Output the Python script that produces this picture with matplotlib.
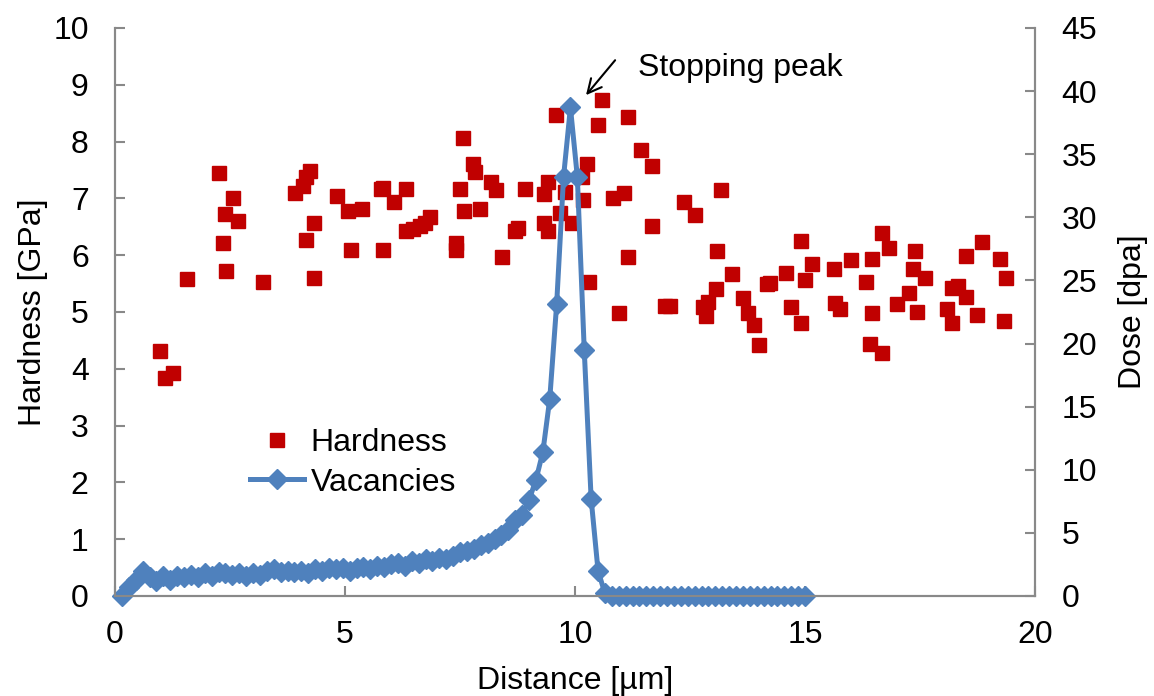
import numpy as np
import matplotlib.pyplot as plt

plt.rcParams["font.family"] = ["Liberation Sans", "DejaVu Sans"]

# hardness measurements (distance um, GPa)
hard_x = [0.98, 1.09, 1.26, 1.57, 2.25, 2.34, 2.39, 2.41, 2.57, 2.67, 3.21, 3.91, 4.08, 4.15,
          4.15, 4.24, 4.33, 4.33, 4.83, 5.07, 5.13, 5.36, 5.78, 5.83, 5.83, 6.07, 6.33, 6.33,
          6.48, 6.63, 6.74, 6.85, 7.41, 7.41, 7.49, 7.57, 7.59, 7.78, 7.83, 7.93, 8.17, 8.28,
          8.41, 8.70, 8.77, 8.92, 9.33, 9.33, 9.42, 9.42, 9.59, 9.67, 9.78, 9.93, 10.15, 10.17,
          10.27, 10.31, 10.51, 10.58, 10.83, 10.96, 11.07, 11.16, 11.16, 11.43, 11.67, 11.67,
          11.96, 12.07, 12.37, 12.61, 12.79, 12.85, 12.90, 13.07, 13.08, 13.17, 13.41, 13.66,
          13.77, 13.88, 14.00, 14.17, 14.24, 14.58, 14.70, 14.91, 14.91, 15.00, 15.16, 15.63,
          15.65, 15.75, 16.00, 16.33, 16.41, 16.45, 16.45, 16.67, 16.67, 16.83, 17.01, 17.27,
          17.34, 17.38, 17.44, 17.61, 18.08, 18.19, 18.19, 18.33, 18.49, 18.50, 18.73, 18.84,
          19.24, 19.33, 19.37]
hard_y = [4.31, 3.84, 3.93, 5.58, 7.44, 6.22, 6.72, 5.73, 7.00, 6.61, 5.52, 7.10, 7.22, 7.37,
          6.27, 7.49, 6.56, 5.59, 7.04, 6.77, 6.10, 6.81, 7.16, 7.19, 6.09, 6.93, 7.17, 6.43,
          6.46, 6.52, 6.56, 6.68, 6.22, 6.09, 7.17, 8.07, 6.78, 7.60, 7.47, 6.81, 7.29, 7.14,
          5.96, 6.43, 6.47, 7.17, 7.07, 6.56, 7.29, 6.43, 8.47, 6.74, 7.12, 6.57, 7.38, 6.98,
          7.61, 5.52, 8.29, 8.74, 7.00, 4.98, 7.09, 8.43, 5.96, 7.85, 7.57, 6.51,
          5.11, 5.11, 6.94, 6.70, 5.09, 4.93, 5.18, 5.40, 6.08, 7.15, 5.67, 5.24,
          4.98, 4.77, 4.41, 5.49, 5.51, 5.69, 5.08, 4.80, 6.25, 5.56, 5.84, 5.75,
          5.16, 5.05, 5.92, 5.52, 4.44, 5.94, 4.98, 4.27, 6.39, 6.12, 5.14, 5.33,
          5.75, 6.08, 5.00, 5.59, 5.06, 5.43, 4.80, 5.45, 5.98, 5.26, 4.95, 6.23,
          5.93, 4.85, 5.59]

# vacancy dose profile (distance um, dpa)
vac_x = [round(0.15 * k, 2) for k in range(1, 101)]
vac_y = [0.0, 0.7, 1.3, 2.0, 1.5, 1.2, 1.6, 1.3, 1.6, 1.5,
         1.7, 1.5, 1.8, 1.6, 1.9, 1.8, 1.7, 1.8, 1.6, 1.8,
         1.7, 2.0, 2.1, 1.9, 2.0, 1.9, 2.0, 1.8, 2.1, 2.0,
         2.2, 2.1, 2.2, 2.0, 2.2, 2.3, 2.1, 2.4, 2.3, 2.5,
         2.6, 2.4, 2.8, 2.6, 2.9, 2.8, 3.0, 2.9, 3.2, 3.5,
         3.6, 3.7, 4.0, 4.2, 4.5, 4.8, 5.2, 6.0, 6.4, 7.6,
         9.2, 11.4, 15.6, 23.1, 33.2, 38.7, 33.2, 19.5, 7.7, 2.0,
         0.2, 0.0, 0.0, 0.0, 0.0, 0.0, 0.0, 0.0, 0.0, 0.0,
         0.0, 0.0, 0.0, 0.0, 0.0, 0.0, 0.0, 0.0, 0.0, 0.0,
         0.0, 0.0, 0.0, 0.0, 0.0, 0.0, 0.0, 0.0, 0.0, 0.0]

red = "#C00000"
blue = "#4F81BD"
grey = "#898989"
fs = 23

fig, ax = plt.subplots(figsize=(11.54, 6.96), dpi=100)
fig.subplots_adjust(left=0.0997, right=0.8969, bottom=0.1437, top=0.9598)
ax2 = ax.twinx()

h1, = ax.plot(hard_x, hard_y, "s", color=red, markersize=10, linestyle="none", label="Hardness")
h2, = ax2.plot(vac_x, vac_y, "-D", color=blue, markersize=10, lw=3.6, clip_on=False, label="Vacancies")

ax.set_xlim(0, 20)
ax.set_ylim(0, 10)
ax2.set_ylim(0, 45)
ax.set_xticks([0, 5, 10, 15, 20])
ax.set_yticks(range(0, 11))
ax2.set_yticks(range(0, 46, 5))

for a in (ax, ax2):
    a.spines["top"].set_visible(False)
    for s in ("left", "right", "bottom"):
        a.spines[s].set_color(grey)
        a.spines[s].set_linewidth(1.5)
    a.tick_params(direction="in", length=7, width=1.5, color=grey, labelsize=fs, pad=19)
ax.tick_params(axis="x", pad=17)

ax.set_xlabel("Distance [µm]", fontsize=fs, labelpad=12)
ax.set_ylabel("Hardness [GPa]", fontsize=fs, labelpad=4)
ax2.set_ylabel("Dose [dpa]", fontsize=fs, labelpad=15)

ax2.annotate("", xy=(10.2, 8.78), xytext=(10.91, 9.47), xycoords=ax.transData,
             textcoords=ax.transData,
             arrowprops=dict(arrowstyle="->", lw=1.5, color="black", mutation_scale=25))
ax2.text(11.37, 9.3, "Stopping peak", transform=ax.transData, fontsize=fs, va="center")

ax2.legend([h1, h2], ["Hardness", "Vacancies"], loc="upper left", frameon=False,
           bbox_to_anchor=(250 / 1154, 1 - 428 / 696), bbox_transform=fig.transFigure,
           fontsize=fs, borderpad=0, borderaxespad=0, handlelength=1.7,
           handletextpad=0.2, labelspacing=0.3)

plt.savefig("out.png", dpi=100)
